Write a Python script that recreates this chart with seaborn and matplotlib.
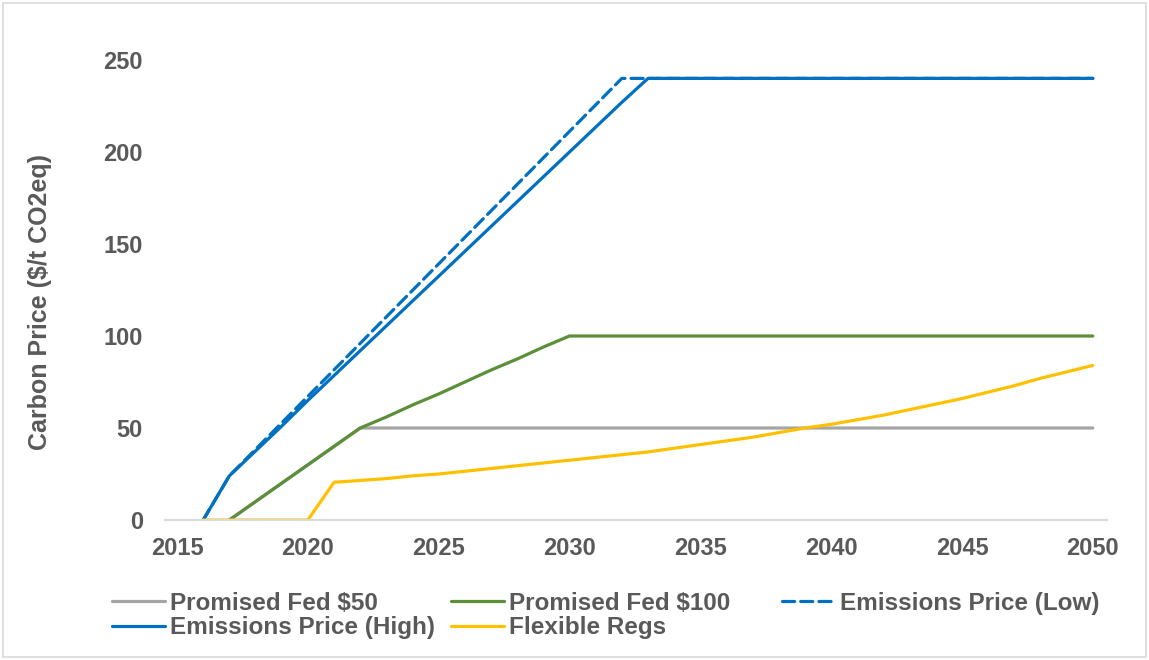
import numpy as np
import pandas as pd
import matplotlib
matplotlib.use("Agg")
import matplotlib.pyplot as plt
from matplotlib.patches import Rectangle
import seaborn as sns

nan = np.nan
years = list(range(2015, 2051))

fed_50 = [nan, nan, 0, 10, 20, 30, 40, 50] + [50] * 28
fed_100 = [nan, nan, 0, 10, 20, 30, 40, 50, 56, 62.5, 68.5, 75, 81.5, 87.5, 94, 100] + [100] * 20
price_low = [nan, 0, 24, 38.4, 52.8, 67.2, 81.6, 96, 110.4, 124.8, 139.2, 153.6, 168, 182.4,
             196.8, 211.2, 225.6, 240] + [240] * 18
price_high = [nan, 0, 24, 37.5, 51, 65, 78.5, 92, 105.5, 119, 132.5, 146, 159.5, 173, 186.5,
              200, 213.5, 227, 240] + [240] * 17
flexible_regs = [nan, 0, 0, 0, 0, 0, 20.5, 21.5, 22.5, 24, 25, 26.5, 28, 29.5, 31, 32.5, 34,
                 35.5, 37, 39, 41, 43, 45, 47.5, 50, 52, 54.5, 57, 60, 63, 66, 69.5, 73, 77,
                 80.5, 84]

series_names = ["Promised Fed $50", "Promised Fed $100", "Emissions Price (Low)",
                "Emissions Price (High)", "Flexible Regs"]
series_values = [fed_50, fed_100, price_low, price_high, flexible_regs]
series_colors = ["#A5A5A5", "#5B8F38", "#0070C0", "#0070C0", "#FFC000"]
series_dashed = [False, False, True, False, False]

y_ticks = [0, 50, 100, 150, 200, 250]
x_ticks = [2015, 2020, 2025, 2030, 2035, 2040, 2045, 2050]
y_label = "Carbon Price ($/t CO2eq)"

sns.set_theme(style="white")
plt.rcParams["font.family"] = ["Liberation Sans", "DejaVu Sans"]

text_color = "#595959"
fig = plt.figure(figsize=(11.49, 6.6), dpi=100)
ax = fig.add_axes([0.1436, 0.2121, 0.8198, 0.697])

handles = {}
for name, vals, color, dashed in zip(series_names, series_values, series_colors, series_dashed):
    df = pd.DataFrame({"year": years, "price": vals})
    sns.lineplot(data=df, x="year", y="price", ax=ax, color=color, linewidth=2.3,
                 label=name, solid_capstyle="round", dash_capstyle="round")
    line = ax.lines[-1]
    if dashed:
        line.set_linestyle((0, (3.8, 1.9)))
    handles[name] = line

ax.set_xlim(2014.54, 2050.54)
ax.set_ylim(0, 250)
ax.set_xticks(x_ticks)
ax.set_yticks(y_ticks)
ax.tick_params(axis="both", length=0, labelsize=17, labelcolor=text_color)
ax.tick_params(axis="y", pad=16)
ax.tick_params(axis="x", pad=12)
for lbl in ax.get_xticklabels() + ax.get_yticklabels():
    lbl.set_fontweight("bold")

ax.set_xlabel("")
ax.set_ylabel(y_label, fontsize=18, fontweight="bold", color=text_color)
ax.yaxis.set_label_coords(-0.12, 0.474)

for side in ["top", "right", "left"]:
    ax.spines[side].set_visible(False)
ax.spines["bottom"].set_color("#D9D9D9")
ax.spines["bottom"].set_linewidth(1.5)
ax.get_legend().remove()

# legend laid out as three equal-width columns below the plot
columns = [
    (112, ["Promised Fed $50", "Emissions Price (High)"]),
    (451, ["Promised Fed $100", "Flexible Regs"]),
    (782, ["Emissions Price (Low)"]),
]
W, H = 1149, 660
for x_px, names in columns:
    leg = fig.legend([handles[n] for n in names], names, loc="upper left",
                     bbox_to_anchor=(x_px / W, 1 - 592 / H), frameon=False,
                     borderpad=0, borderaxespad=0, handlelength=2.2,
                     handletextpad=0.2, labelspacing=0.05,
                     prop={"size": 17.5, "weight": "bold"})
    for t in leg.get_texts():
        t.set_color(text_color)

fig.patches.append(Rectangle((0.003, 0.004), 0.994, 0.991, transform=fig.transFigure,
                             fill=False, edgecolor="#D9D9D9", linewidth=1.2))

fig.savefig("out.png", dpi=100, facecolor="white")
